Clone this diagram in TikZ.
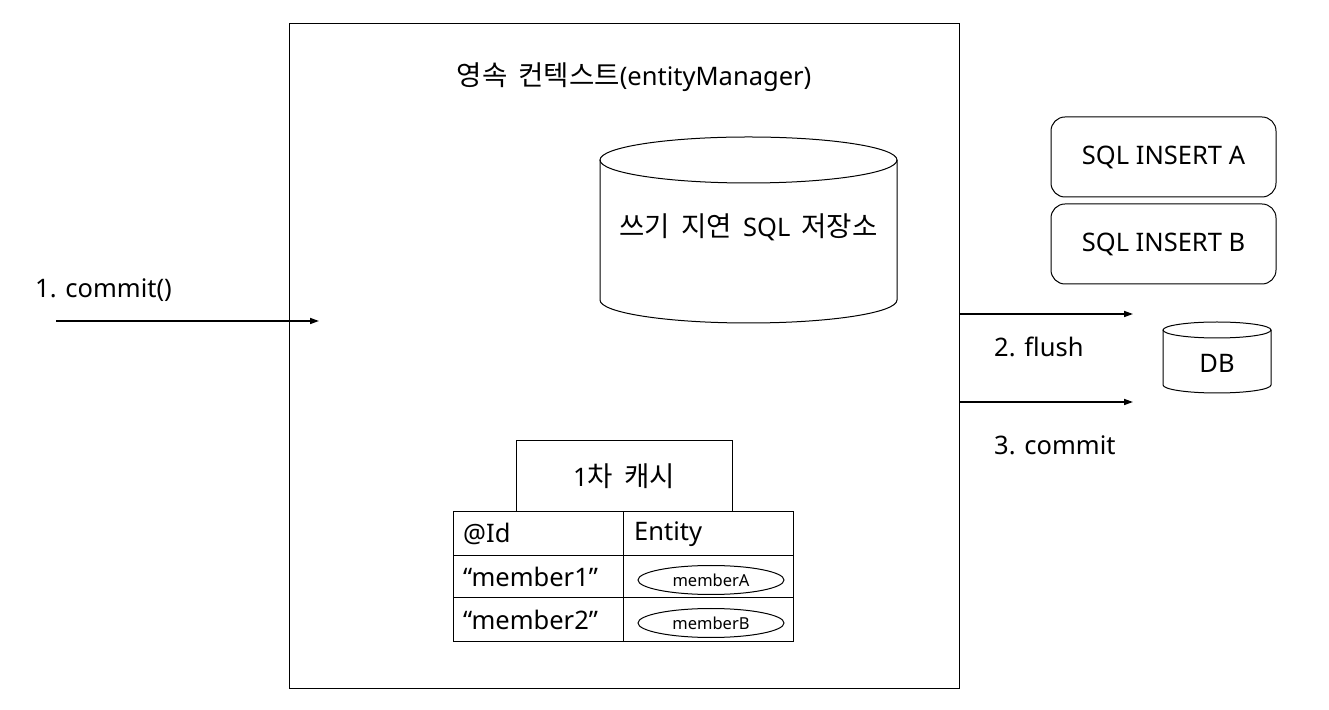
\documentclass[tikz,border=0pt]{standalone}
\usepackage{fontspec}
\setmainfont{Noto Sans}
\newfontfamily\kr{Noto Sans CJK KR}[Scale=1.08,WordSpace=1.8]
\usetikzlibrary{arrows.meta,shapes.geometric}
\tikzset{
  big/.style={font=\fontsize{25.5}{30}\selectfont, inner sep=0pt},
  small/.style={font=\fontsize{16.5}{20}\selectfont, inner sep=0pt},
  ln/.style={draw=black, line width=1pt},
  arr/.style={line width=1.6pt, -{Triangle[length=9pt,width=6pt]}},
  sqlbox/.style={ln, rounded corners=14pt, minimum width=225pt, minimum height=80pt, big},
  ell/.style={ln, ellipse, minimum width=146pt, minimum height=29pt, small}
}
\begin{document}
\begin{tikzpicture}[x=1pt,y=1pt]
\useasboundingbox[fill=white] (0,0) rectangle (1329,709);
% main box
\node[ln, minimum width=670pt, minimum height=664pt, inner sep=0pt] (ctx) at (624,353) {};
\node[big] (title) at (634,632) {{\kr 영속 컨텍스트}(entityManager)};
% big cylinder
\draw[ln, fill=white] (600,549) -- (600,409) arc[start angle=180, end angle=360, x radius=148.5pt, y radius=23pt] -- (897,549);
\draw[ln] (748.5,549) ellipse[x radius=148.5pt, y radius=23pt];
\node[big] (store) at (748.5,482) {{\kr 쓰기 지연 }SQL{\kr{} 저장소}};
% SQL boxes
\node[sqlbox] (sqla) at (1163.5,552) {SQL INSERT A};
\node[sqlbox] (sqlb) at (1163.5,465) {SQL INSERT B};
% DB cylinder
\draw[ln, fill=white] (1163,379) -- (1163,324) arc[start angle=180, end angle=360, x radius=54pt, y radius=8pt] -- (1271,379);
\draw[ln] (1217,379) ellipse[x radius=54pt, y radius=8pt];
\node[big] (db) at (1217,346) {DB};
% arrows
\coordinate (c1s) at (56,388);
\coordinate (c1e) at (319,388);
\draw[arr] (c1s) -- (c1e);
\node[big, anchor=west] (l1) at (35,419) {1. commit()};
\coordinate (fs) at (959,395);
\coordinate (fe) at (1133,395);
\draw[arr] (fs) -- (fe);
\node[big, anchor=west] (l2) at (994,362) {2. flush};
\coordinate (cs) at (959,307);
\coordinate (ce) at (1133,307);
\draw[arr] (cs) -- (ce);
\node[big, anchor=west] (l3) at (994,264) {3. commit};
% cache
\node[ln, minimum width=216pt, minimum height=71pt, big] (cache) at (624,232.5) {1{\kr 차 캐시}};
% table
\draw[ln] (453,68) rectangle (793,197);
\draw[ln] (623,68) -- (623,197);
\draw[ln] (453,153) -- (793,153);
\draw[ln] (453,111) -- (793,111);
\node[big, anchor=west] (hid) at (463,175) {@Id};
\node[big, anchor=west] (hent) at (634,175) {Entity};
\node[big, anchor=west] (m1) at (463,132) {“member1”};
\node[big, anchor=west] (m2) at (463,89) {“member2”};
\node[ell] (ma) at (711,129) {memberA};
\node[ell] (mb) at (711,86) {memberB};
\end{tikzpicture}
\end{document}
